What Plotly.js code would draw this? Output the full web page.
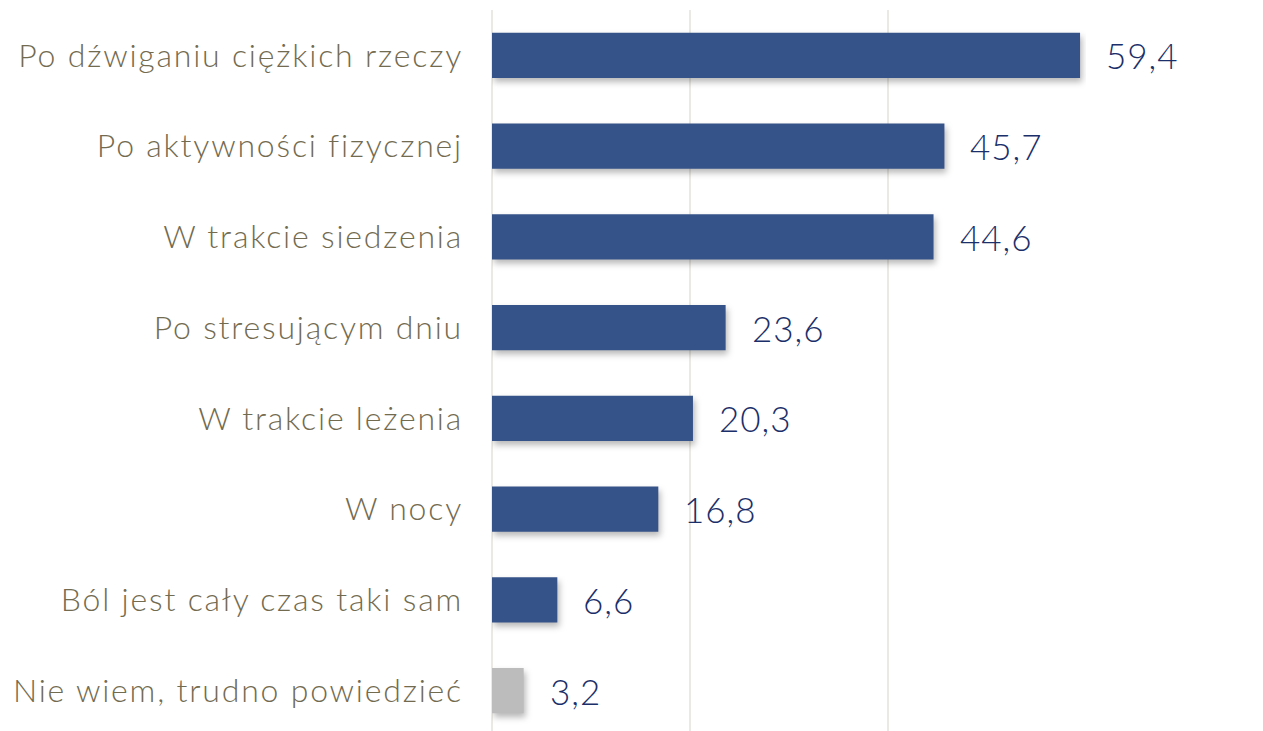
<!DOCTYPE html>
<html>
<head>
<meta charset="utf-8">
<script src="https://cdn.plot.ly/plotly-3.0.1.min.js"></script>
<style>
html,body{margin:0;padding:0;overflow:hidden;background:#fff;}
#chart{width:1263px;height:736px;}
.barlayer .point path{filter:drop-shadow(2px 4px 3px rgba(0,0,0,0.28));}
.ytick text{letter-spacing:1.8px;}
.annotation-text{letter-spacing:1px;}
</style>
</head>
<body>
<div id="chart"></div>
<script>
const categories = [
  "Po dźwiganiu ciężkich rzeczy",
  "Po aktywności fizycznej",
  "W trakcie siedzenia",
  "Po stresującym dniu",
  "W trakcie leżenia",
  "W nocy",
  "Ból jest cały czas taki sam",
  "Nie wiem, trudno powiedzieć"
];
const values = [59.4, 45.7, 44.6, 23.6, 20.3, 16.8, 6.6, 3.2];
const valueLabels = ["59,4", "45,7", "44,6", "23,6", "20,3", "16,8", "6,6", "3,2"];
const barColors = ["#365389", "#365389", "#365389", "#365389", "#365389", "#365389", "#365389", "#bcbcbc"];

const fontFamily = "Lato, 'Open Sans', 'DejaVu Sans', sans-serif";

const trace = {
  type: "bar",
  orientation: "h",
  x: values,
  y: categories,
  width: 0.5,
  marker: {color: barColors},
  hoverinfo: "skip"
};

const annotations = values.map((v, i) => ({
  x: v,
  y: categories[i],
  xref: "x",
  yref: "y",
  text: valueLabels[i],
  showarrow: false,
  xanchor: "left",
  yanchor: "middle",
  xshift: 24,
  yshift: 0,
  font: {family: fontFamily, size: 35, weight: 300, color: "#1b2f6a"}
}));

const layout = {
  width: 1263,
  height: 736,
  margin: {l: 492, r: 177, t: 10, b: 0, pad: 0},
  paper_bgcolor: "#ffffff",
  plot_bgcolor: "#ffffff",
  showlegend: false,
  bargap: 0.5,
  xaxis: {
    range: [0, 60],
    tickvals: [0, 20, 40, 60],
    showticklabels: false,
    showgrid: true,
    gridcolor: "#ebe9e3",
    gridwidth: 2,
    zeroline: true,
    zerolinecolor: "#ebe9e3",
    zerolinewidth: 2,
    showline: false,
    fixedrange: true
  },
  yaxis: {
    autorange: "reversed",
    type: "category",
    showgrid: false,
    zeroline: false,
    showline: false,
    ticks: "",
    ticklabelstandoff: 28,
    tickfont: {family: fontFamily, size: 32, weight: 300, color: "#736b50"},
    fixedrange: true
  },
  annotations: annotations
};

Plotly.newPlot("chart", [trace], layout, {displayModeBar: false, staticPlot: true});
</script>
</body>
</html>
